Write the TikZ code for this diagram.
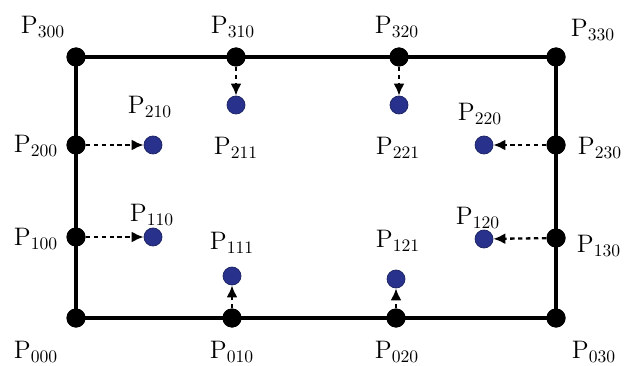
\documentclass[tikz,border=0pt]{standalone}
\usepackage{amsmath}
\usepackage{tikz}
\usetikzlibrary{arrows.meta}
\definecolor{cDot}{RGB}{40,50,140}
\tikzset{
	ctrlpt/.style  ={circle, fill=black, minimum size=0.38cm, inner sep=0pt},
	innerpt/.style ={circle, fill=cDot, draw=cDot!70!black, minimum size=0.36cm, inner sep=0pt},
	ptlabel/.style ={font=\Large, inner sep=1pt},
	border/.style  ={line width=2.1pt},
	shiftarr/.style={-{Latex[length=2.4mm, width=2.2mm]}, line width=1.3pt, dash pattern=on 2.5pt off 2pt},
}
\begin{document}
\begin{tikzpicture}
	\useasboundingbox (0,0) rectangle (12.62,7.30);
	% boundary control points
	\node[ctrlpt] (P300) at (1.52,6.16) {};
	\node[ctrlpt] (P310) at (4.72,6.16) {};
	\node[ctrlpt] (P320) at (7.98,6.16) {};
	\node[ctrlpt] (P330) at (11.12,6.16) {};
	\node[ctrlpt] (P200) at (1.52,4.40) {};
	\node[ctrlpt] (P230) at (11.12,4.40) {};
	\node[ctrlpt] (P100) at (1.52,2.56) {};
	\node[ctrlpt] (P130) at (11.12,2.54) {};
	\node[ctrlpt] (P000) at (1.52,0.94) {};
	\node[ctrlpt] (P010) at (4.64,0.94) {};
	\node[ctrlpt] (P020) at (7.92,0.94) {};
	\node[ctrlpt] (P030) at (11.12,0.94) {};
	\draw[border] (P000.center) -- (P030.center) -- (P330.center) -- (P300.center) -- cycle;
	% redraw the dots on top of the edges
	\foreach \n in {P300,P310,P320,P330,P200,P230,P100,P130,P000,P010,P020,P030}
		\fill (\n) circle (0.19);
	% inner points
	\node[innerpt] (P211) at (4.72,5.20) {};
	\node[innerpt] (P221) at (7.98,5.20) {};
	\node[innerpt] (P210) at (3.06,4.40) {};
	\node[innerpt] (P220) at (9.68,4.40) {};
	\node[innerpt] (P110) at (3.06,2.56) {};
	\node[innerpt] (P120) at (9.68,2.52) {};
	\node[innerpt] (P111) at (4.64,1.78) {};
	\node[innerpt] (P121) at (7.92,1.72) {};
	% dashed shifts
	\draw[shiftarr] (P310) -- (P211);
	\draw[shiftarr] (P320) -- (P221);
	\draw[shiftarr] (P200) -- (P210);
	\draw[shiftarr] (P230) -- (P220);
	\draw[shiftarr] (P100) -- (P110);
	\draw[shiftarr] (P130) -- (P120);
	\draw[shiftarr] (P010) -- (P111);
	\draw[shiftarr] (P020) -- (P121);
	% labels
	\node[ptlabel] (lP300) at (0.86,6.76) {$\mathrm{P}_{300}$};
	\node[ptlabel] (lP310) at (4.66,6.76) {$\mathrm{P}_{310}$};
	\node[ptlabel] (lP320) at (7.94,6.76) {$\mathrm{P}_{320}$};
	\node[ptlabel] (lP330) at (11.86,6.70) {$\mathrm{P}_{330}$};
	\node[ptlabel] (lP210) at (3.00,5.16) {$\mathrm{P}_{210}$};
	\node[ptlabel] (lP211) at (4.72,4.34) {$\mathrm{P}_{211}$};
	\node[ptlabel] (lP221) at (7.96,4.34) {$\mathrm{P}_{221}$};
	\node[ptlabel] (lP220) at (9.60,5.02) {$\mathrm{P}_{220}$};
	\node[ptlabel] (lP200) at (0.72,4.38) {$\mathrm{P}_{200}$};
	\node[ptlabel] (lP230) at (12.00,4.34) {$\mathrm{P}_{230}$};
	\node[ptlabel] (lP110) at (3.04,3.00) {$\mathrm{P}_{110}$};
	\node[ptlabel] (lP111) at (4.64,2.44) {$\mathrm{P}_{111}$};
	\node[ptlabel] (lP121) at (7.96,2.48) {$\mathrm{P}_{121}$};
	\node[ptlabel] (lP120) at (9.56,2.94) {$\mathrm{P}_{120}$};
	\node[ptlabel] (lP100) at (0.72,2.52) {$\mathrm{P}_{100}$};
	\node[ptlabel] (lP130) at (11.98,2.38) {$\mathrm{P}_{130}$};
	\node[ptlabel] (lP000) at (0.72,0.26) {$\mathrm{P}_{000}$};
	\node[ptlabel] (lP010) at (4.64,0.26) {$\mathrm{P}_{010}$};
	\node[ptlabel] (lP020) at (7.94,0.26) {$\mathrm{P}_{020}$};
	\node[ptlabel] (lP030) at (11.88,0.26) {$\mathrm{P}_{030}$};
\end{tikzpicture}
\end{document}
